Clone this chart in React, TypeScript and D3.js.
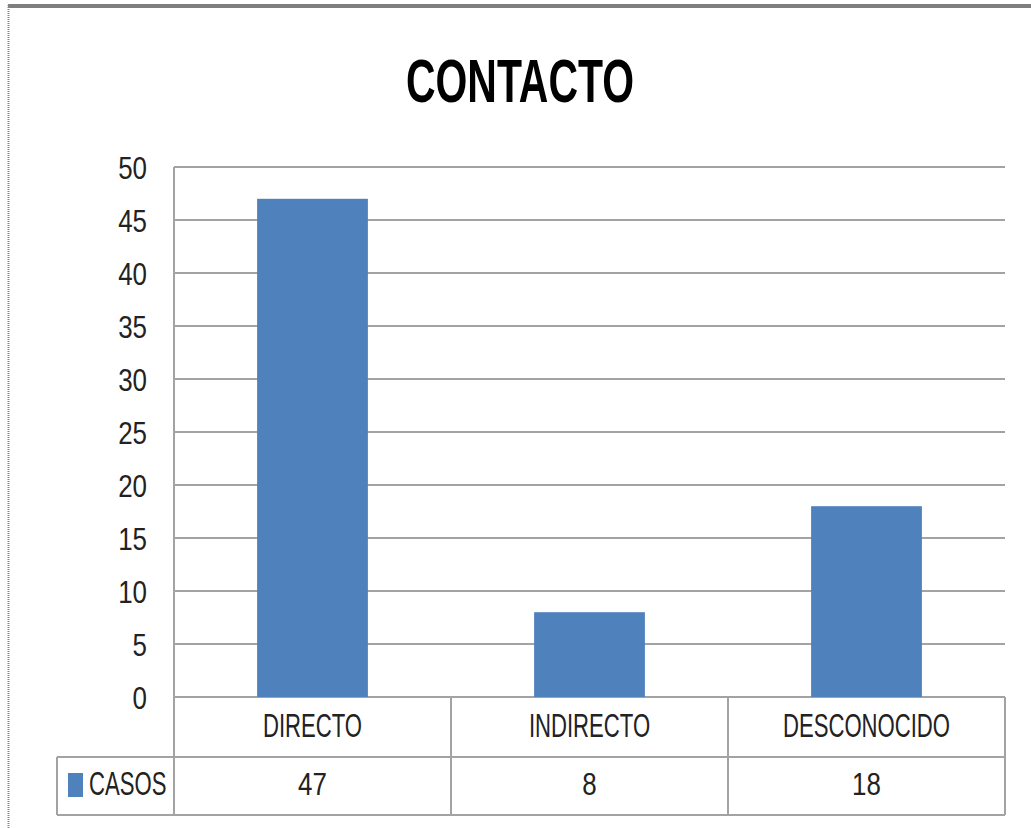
import React from "react";
import * as d3 from "d3";

const title = "CONTACTO";
const categories = ["DIRECTO", "INDIRECTO", "DESCONOCIDO"];
const seriesName = "CASOS";
const casos = [47, 8, 18];
const yTicks = [0, 5, 10, 15, 20, 25, 30, 35, 40, 45, 50];

const W = 1031;
const H = 828;
const plot = { left: 174, right: 1005, top: 167, bottom: 697 };
const rowH = 59;
const legendLeft = 57;
const lineColor = "#a3a3a3";
const barColor = "#4f81bd";
const font = "'Liberation Sans', Arial, sans-serif";

export default function App() {
  const y = d3.scaleLinear().domain([0, 50]).range([plot.bottom, plot.top]);
  const x = d3.scaleBand<string>().domain(categories).range([plot.left, plot.right]).padding(0);
  const bw = x.bandwidth();
  const barW = bw * 0.4;
  const row1Bottom = plot.bottom + rowH + 1;
  const row2Bottom = row1Bottom + rowH - 1;

  const cx = (c: string) => (x(c) as number) + bw / 2;

  return (
    <div style={{ position: "absolute", left: 0, top: 0 }}>
      <svg width={W} height={H} style={{ display: "block", background: "#fff" }}>
        {/* outer frame */}
        <line x1={8} x2={W} y1={6} y2={6} stroke="#7f7f7f" strokeWidth={4} />
        <line x1={8.5} x2={8.5} y1={5} y2={H} stroke="#858585" strokeWidth={2} strokeDasharray="1 1" />

        {/* title */}
        <text
          transform={`translate(520,102) scale(0.66,1)`}
          textAnchor="middle"
          fontFamily={font}
          fontWeight="bold"
          fontSize={62}
          fill="#000"
        >
          {title}
        </text>

        {/* gridlines */}
        {yTicks.map((t) => (
          <line key={"g" + t} x1={plot.left} x2={plot.right} y1={y(t)} y2={y(t)} stroke={lineColor} strokeWidth={2} />
        ))}

        {/* y tick labels */}
        {yTicks.map((t) => (
          <text
            key={"t" + t}
            transform={`translate(147,${y(t) + 11.5}) scale(0.81,1)`}
            textAnchor="end"
            fontFamily={font}
            fontSize={32}
            fill="#222"
          >
            {t}
          </text>
        ))}

        {/* bars */}
        {categories.map((c, i) => (
          <rect
            key={"b" + c}
            x={(x(c) as number) + (bw - barW) / 2}
            y={y(casos[i])}
            width={barW}
            height={y(0) - y(casos[i])}
            fill={barColor}
          />
        ))}

        {/* data table lines */}
        <line x1={plot.left} x2={plot.left} y1={plot.top} y2={row2Bottom} stroke={lineColor} strokeWidth={2} />
        {categories.map((c) => (
          <line
            key={"v" + c}
            x1={(x(c) as number) + bw}
            x2={(x(c) as number) + bw}
            y1={plot.bottom}
            y2={row2Bottom}
            stroke={lineColor}
            strokeWidth={2}
          />
        ))}
        <line x1={legendLeft} x2={plot.right} y1={row1Bottom} y2={row1Bottom} stroke={lineColor} strokeWidth={2} />
        <line x1={legendLeft} x2={plot.right} y1={row2Bottom} y2={row2Bottom} stroke={lineColor} strokeWidth={2} />
        <line x1={legendLeft} x2={legendLeft} y1={row1Bottom} y2={row2Bottom} stroke={lineColor} strokeWidth={2} />

        {/* category labels */}
        {categories.map((c) => (
          <text
            key={"c" + c}
            transform={`translate(${cx(c)},737) scale(0.66,1)`}
            textAnchor="middle"
            fontFamily={font}
            fontSize={33.5}
            fill="#222"
          >
            {c}
          </text>
        ))}

        {/* legend key */}
        <rect x={68} y={773} width={15} height={24} fill={barColor} />
        <text
          transform={`translate(89,795) scale(0.66,1)`}
          fontFamily={font}
          fontSize={33.5}
          fill="#222"
        >
          {seriesName}
        </text>

        {/* values */}
        {categories.map((c, i) => (
          <text
            key={"v" + c}
            transform={`translate(${cx(c)},795) scale(0.81,1)`}
            textAnchor="middle"
            fontFamily={font}
            fontSize={32}
            fill="#222"
          >
            {casos[i]}
          </text>
        ))}
      </svg>
    </div>
  );
}
